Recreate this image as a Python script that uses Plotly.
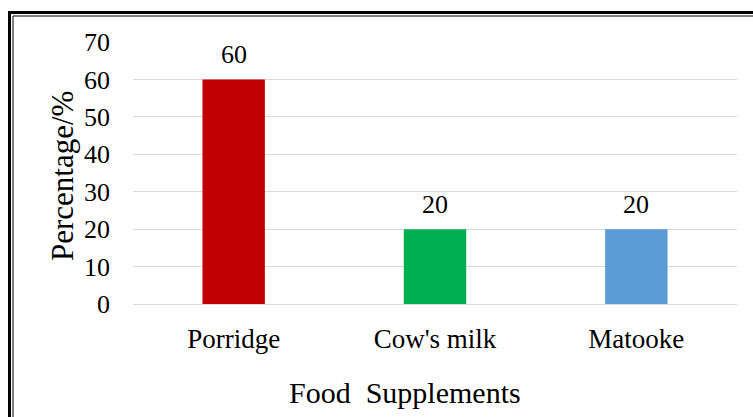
import plotly.graph_objects as go

# Food supplement shares
categories = ["Porridge", "Cow's milk", "Matooke"]
percentages = [60, 20, 20]
bar_colors = ["#C00000", "#00B050", "#5B9BD5"]
y_ticks = [0, 10, 20, 30, 40, 50, 60, 70]

W, H = 753, 417
M_L, M_R, M_T, M_B = 133, 16, 42, 113
FONT = "Liberation Serif"


def px_x(x):
    return (x - M_L) / (W - M_L - M_R)


def px_y(y):
    return (H - M_B - y) / (H - M_T - M_B)


fig = go.Figure(
    go.Bar(
        x=categories,
        y=percentages,
        marker=dict(color=bar_colors, line=dict(width=0)),
        width=0.31,
        hoverinfo="skip",
    )
)

for cat, val in zip(categories, percentages):
    fig.add_annotation(
        x=cat, y=val, text=str(val), showarrow=False,
        yanchor="bottom", yshift=8,
        font=dict(family=FONT, size=26, color="#000000"),
    )

# axis titles
fig.add_annotation(
    xref="paper", yref="paper", x=px_x(405), y=px_y(392),
    text="Food  Supplements", showarrow=False,
    xanchor="center", yanchor="middle",
    font=dict(family=FONT, size=30, color="#000000"),
)
fig.add_annotation(
    xref="paper", yref="paper", x=px_x(62), y=px_y(176),
    text="Percentage/%", showarrow=False, textangle=-90,
    xanchor="center", yanchor="middle",
    font=dict(family=FONT, size=31, color="#000000"),
)

# double frame around the chart
fig.add_shape(type="rect", xref="paper", yref="paper",
              x0=px_x(9.5), y0=px_y(12.5), x1=px_x(800), y1=px_y(500),
              line=dict(color="#000000", width=3), layer="above")
fig.add_shape(type="rect", xref="paper", yref="paper",
              x0=px_x(13), y0=px_y(16), x1=px_x(800), y1=px_y(500),
              line=dict(color="#000000", width=1), layer="above")

fig.update_layout(
    width=W, height=H,
    margin=dict(l=M_L, r=M_R, t=M_T, b=M_B, pad=0),
    paper_bgcolor="white", plot_bgcolor="white",
    showlegend=False,
    font=dict(family=FONT, color="#000000"),
    xaxis=dict(
        showgrid=False, showline=True, linecolor="#D9D9D9", linewidth=1,
        ticks="", tickfont=dict(family=FONT, size=27),
        ticklabelstandoff=11,
    ),
    yaxis=dict(
        range=[0, 70], tickvals=y_ticks, showgrid=True, gridcolor="#D9D9D9", gridwidth=1,
        zeroline=False, showline=False, ticks="",
        tickfont=dict(family=FONT, size=26), ticklabelstandoff=22,
    ),
)

fig.write_html("out.html")
